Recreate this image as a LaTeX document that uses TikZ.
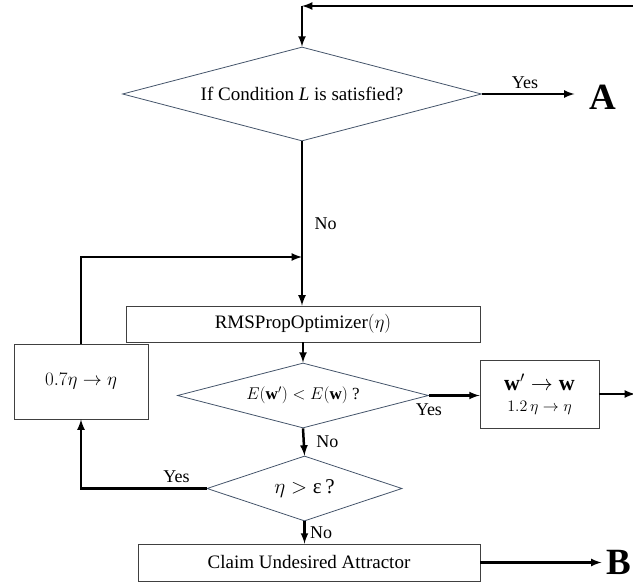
\RequirePackage{fix-cm}
\documentclass[tikz,border=0pt]{standalone}
\usepackage{amsmath}
\usepackage{fontspec}
\setmainfont{Liberation Serif}
\usetikzlibrary{arrows,shapes.geometric}

\definecolor{slate}{RGB}{68,84,106}

\begin{document}
\begin{tikzpicture}[>=latex,x=1pt,y=-1pt,
	decision/.style={diamond,draw=slate,line width=0.8pt,inner sep=0pt},
	block/.style={rectangle,draw=black!75,line width=0.9pt,inner sep=0pt},
	flow/.style={->,line width=2.5pt},
	tag/.style={font=\fontsize{18}{20}\selectfont},
	letter/.style={font=\fontsize{37}{40}\selectfont\bfseries,inner sep=0pt}]

\useasboundingbox (0,0) rectangle (633,583);

\node (cond) at (302,94) [decision,aspect=3.8,minimum width=359pt,minimum height=94pt,
	font=\fontsize{19}{22}\selectfont] {If Condition \textit{L} is satisfied?};
\node (A) at (603,97) [letter] {A};

\node (rms) at (303,324) [block,minimum width=354pt,minimum height=36pt,
	font=\fontsize{19}{22}\selectfont] {$\mathrm{RMSPropOptimizer}(\eta)$};

\node (cmp) at (303,395.5) [decision,aspect=3.86,minimum width=251pt,minimum height=65pt,
	font=\fontsize{17}{20}\selectfont] {$E(\mathbf{w}') < E(\mathbf{w})$ ?};

\node (upd) at (539.5,394) [block,minimum width=119pt,minimum height=68pt,align=center,
	font=\fontsize{22}{24}\selectfont]
	{$\mathbf{w}'\rightarrow\mathbf{w}$\\[-3pt]
	 {\fontsize{16}{18}\selectfont$1.2\,\eta\rightarrow\eta$}};

\node (dec) at (81,381.5) [block,minimum width=134pt,minimum height=75pt,
	font=\fontsize{19}{22}\selectfont] {$0.7\eta\rightarrow\eta$};

\node (eps) at (304.5,488.5) [decision,aspect=3,minimum width=195pt,minimum height=65pt,
	font=\fontsize{21}{24}\selectfont] {$\eta >{}$ε\,?};

\node (claim) at (309,562.5) [block,minimum width=342pt,minimum height=37pt,
	font=\fontsize{19}{22}\selectfont] {Claim Undesired Attractor};
\node (B) at (619,562) [letter] {B};

\coordinate (back) at (633,6);
\coordinate (top) at (302,6);
\coordinate (join) at (302,257);
\coordinate (out) at (635,394);

% main column
\draw[flow] (back)--(top);
\draw[flow] (top)--(cond.north);
\draw[flow,shorten >=15pt] (cond.east)--(cond.east -| A.west)
	node[tag,pos=0.4,above=1pt] {Yes};
\draw[flow] (cond.south)--(cond.south |- rms.north)
	node[tag,midway,right=8pt] {No};
\draw[flow] (rms.south)--(cmp.north);

% accept step
\draw[flow] (cmp.east)--(cmp.east -| upd.west)
	node[tag,at start,below=4pt] {Yes};
\draw[flow] (upd.east)--(out);

% reject step
\draw[flow] (cmp.south)--(eps.north)
	node[tag,midway,right=8pt] {No};
\draw[flow] (eps.west) -| (dec.south)
	node[tag,pos=0.12,above=1pt] {Yes};
\draw[flow] (dec.north) |- (join);
\draw[flow] (eps.south)--(eps.south |- claim.north)
	node[tag,midway,right=1pt] {No};
\draw[flow,shorten >=5pt] (claim.east)--(claim.east -| B.west);

\end{tikzpicture}
\end{document}
